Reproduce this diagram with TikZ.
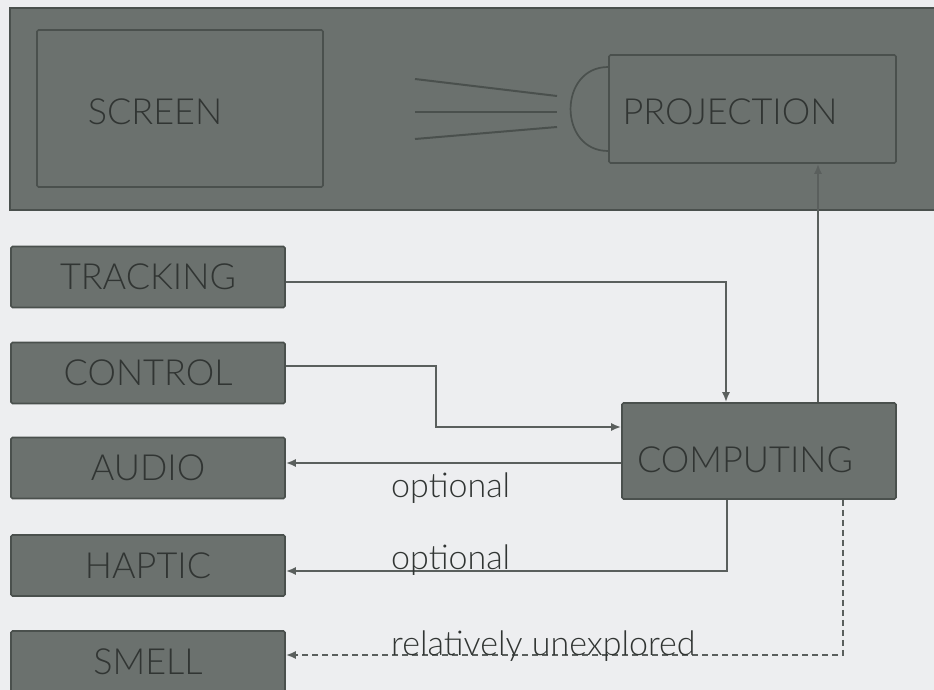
\documentclass[tikz,border=0pt]{standalone}
\usepackage{fontspec}
\setmainfont{Lato Light}
\usetikzlibrary{arrows.meta,calc}
\definecolor{bg}{HTML}{EDEEF0}
\definecolor{panel}{HTML}{6B716E}
\definecolor{edge}{HTML}{4A504D}
\definecolor{ink}{HTML}{313533}
\definecolor{wire}{HTML}{5A5F5D}
\begin{document}
\begin{tikzpicture}[x=1pt,y=-1pt,
  box/.style={draw=edge, line width=1.6pt, fill=panel, inner sep=0pt, rounded corners=1.5pt},
  boxtext/.style={text=ink, font=\fontsize{36}{40}\selectfont, inner sep=0pt},
  wire/.style={draw=wire, line width=2pt},
  tip/.style={-{Latex[length=10pt,width=8pt]}},
  note/.style={text=ink, font=\fontsize{34}{38}\selectfont, inner sep=0pt, anchor=base west}]
\fill[bg] (0,0) rectangle (934,690);
\useasboundingbox (0,0) rectangle (934,690);

% display panel with screen and projector
\begin{scope}
  \clip (0,0) rectangle (934,690);
  \draw[edge, fill=panel, line width=2pt] (10,8) rectangle (950,210);
\end{scope}
\node[box, minimum width=286pt, minimum height=157pt] (scr) at (180,108.5) {};
\node[boxtext] at (155,112) {SCREEN};
\node[box, minimum width=287pt, minimum height=108pt] (prj) at (752.5,109) {};
\node[boxtext] at (730,112) {PROJECTION};
\draw[edge, line width=1.7pt] ([yshift=42pt]prj.west) .. controls (558,67) and (558,151) .. ([yshift=-42pt]prj.west);
\draw[edge, line width=2pt] (415,79) -- (557,96);
\draw[edge, line width=2pt] (415,112) -- (557,112);
\draw[edge, line width=2pt] (415,139) -- (557,127);

% input and output modules
\node[box, minimum width=274pt, minimum height=61pt] (trk) at (148,277) {};
\node[boxtext] at (trk) {TRACKING};
\node[box, minimum width=274pt, minimum height=61pt] (ctl) at (148,373) {};
\node[boxtext] at (ctl) {CONTROL};
\node[box, minimum width=274pt, minimum height=61pt] (aud) at (148,468) {};
\node[boxtext] at (aud) {AUDIO};
\node[box, minimum width=274pt, minimum height=61pt] (hap) at (148,565.5) {};
\node[boxtext] at (hap) {HAPTIC};
\node[box, minimum width=274pt, minimum height=61pt] (sml) at (148,661.5) {};
\node[boxtext] at (sml) {SMELL};

\node[box, minimum width=274pt, minimum height=96pt] (cmp) at (759,451) {};
\node[boxtext] at (745,460) {COMPUTING};

% connections
\draw[wire, tip] ([yshift=-5pt]trk.east) -| ([xshift=-33pt]cmp.north);
\draw[wire, tip] ([yshift=7pt]ctl.east) -- ++(150,0) |- ([yshift=24pt]cmp.west);
\draw[wire, tip] ([xshift=59pt]cmp.north) -- ([xshift=65.5pt]prj.south);
\draw[wire, tip] ([yshift=-12pt]cmp.west) coordinate (aout) -- (aud.east |- aout);
\draw[wire, tip] ([xshift=-32pt]cmp.south) |- ([yshift=-5.5pt]hap.east);
\draw[wire, tip, dash pattern=on 6pt off 4pt] ([xshift=84pt]cmp.south) |- ([yshift=6.5pt]sml.east);

\node[note] at (391,497) {optional};
\node[note] at (391,569) {optional};
\node[note] at (391,655) {relatively unexplored};
\end{tikzpicture}
\end{document}
